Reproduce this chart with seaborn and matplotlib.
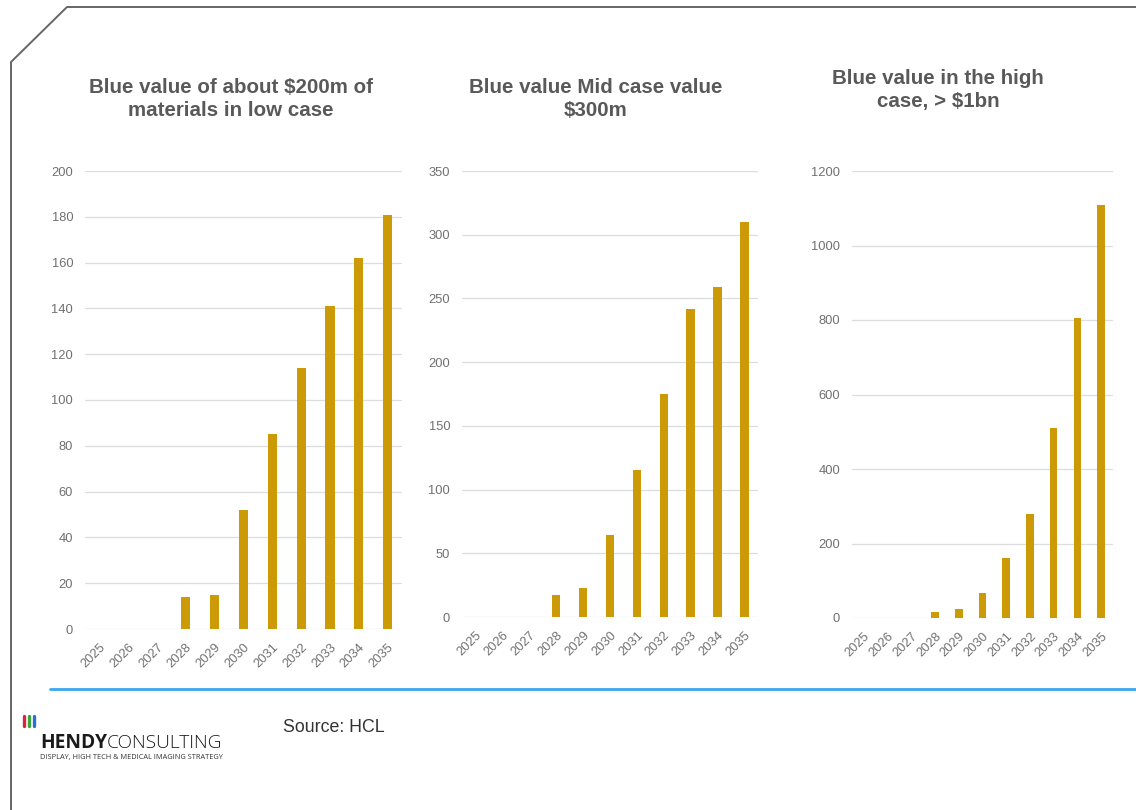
import matplotlib
matplotlib.use("Agg")
import matplotlib.pyplot as plt
import seaborn as sns
import pandas as pd
from matplotlib.lines import Line2D

years = ["2025", "2026", "2027", "2028", "2029", "2030", "2031", "2032", "2033", "2034", "2035"]
low_case = [0, 0, 0, 14, 15, 52, 85, 114, 141, 162, 181]
mid_case = [0, 0, 0, 17, 23, 64, 115, 175, 242, 259, 310]
high_case = [0, 0, 0, 16, 24, 67, 161, 279, 510, 805, 1109]

titles = ["Blue value of about $200m of\nmaterials in low case",
          "Blue value Mid case value\n$300m",
          "Blue value in the high\ncase, > $1bn"]
y_max = [200, 350, 1200]
y_step = [20, 50, 200]

sns.set_theme(style="white")
plt.rcParams['font.family'] = ['Liberation Sans', 'DejaVu Sans']

W, H = 1136, 810
fig = plt.figure(figsize=(W / 100, H / 100), dpi=100)
fig.patch.set_facecolor("white")

def px_axes(left, right, top, bottom):
    return fig.add_axes([left / W, 1 - bottom / H, (right - left) / W, (bottom - top) / H])

boxes = [(85, 402, 171, 629), (462, 758, 171, 617), (852, 1113, 171, 618)]
title_pos = [(231, 99), (596, 99), (938, 90)]
series = [low_case, mid_case, high_case]
bar_color = "#cc9a06"
gray_txt = "#595959"
tick_col = "#707070"

for i in range(3):
    ax = px_axes(*boxes[i])
    df = pd.DataFrame({"year": years, "value": series[i]})
    sns.barplot(data=df, x="year", y="value", color=bar_color, width=0.32,
                linewidth=0, saturation=1, ax=ax)
    ax.set_xlim(-0.5, len(years) - 0.5)
    ax.set_ylim(0, y_max[i])
    ticks = list(range(0, y_max[i] + 1, y_step[i]))
    ax.set_yticks(ticks)
    ax.set_yticklabels([str(t) for t in ticks], fontsize=9.3, color=tick_col)
    ax.grid(axis="y", color="#dddddd", linewidth=0.9)
    ax.set_axisbelow(True)
    for s in ax.spines.values():
        s.set_visible(False)
    ax.tick_params(axis="y", length=0, pad=8.5)
    ax.tick_params(axis="x", length=0, pad=9)
    ax.set_xticks(range(len(years)))
    ax.set_xticklabels(years, rotation=45, ha="right", rotation_mode="anchor",
                       fontsize=9.3, color=tick_col)
    ax.set_xlabel("")
    ax.set_ylabel("")
    tx, ty = title_pos[i]
    fig.text(tx / W, 1 - ty / H, titles[i], ha="center", va="center",
             fontsize=14.8, fontweight="bold", color=gray_txt, linespacing=1.25)

# frame with chamfered corner
fig.add_artist(Line2D([11 / W, 11 / W, 67 / W, 1.0],
                      [0.0, 1 - 62 / H, 1 - 7 / H, 1 - 7 / H],
                      color="#666666", linewidth=1.4, transform=fig.transFigure))
# blue separator
fig.add_artist(Line2D([50 / W, 1.0], [1 - 689 / H, 1 - 689 / H],
                      color="#3aa7f0", linewidth=2.0, transform=fig.transFigure))

# logo
for k, c in enumerate(["#d7263d", "#3aa63a", "#2b6fd1"]):
    fig.add_artist(Line2D([(24 + 5 * k) / W] * 2, [1 - 726 / H, 1 - 716 / H],
                          color=c, linewidth=2.4, transform=fig.transFigure))
fig.text(40 / W, 1 - 743 / H, "HENDY", fontsize=13.8, fontweight="bold",
         color="#1a1a1a", va="center", ha="left", family=["Open Sans", "DejaVu Sans"])
fig.text(107 / W, 1 - 743 / H, "CONSULTING", fontsize=13.8, fontweight="light",
         color="#1a1a1a", va="center", ha="left", family=["Open Sans", "DejaVu Sans"])
fig.text(40 / W, 1 - 757 / H, "DISPLAY, HIGH TECH & MEDICAL IMAGING STRATEGY",
         fontsize=5.3, color="#333333", va="center", ha="left",
         family=["Open Sans", "DejaVu Sans"])

fig.text(283 / W, 1 - 727 / H, "Source: HCL", fontsize=12.8, color="#333333",
         va="center", ha="left")

fig.savefig("out.png", dpi=100, facecolor="white")
